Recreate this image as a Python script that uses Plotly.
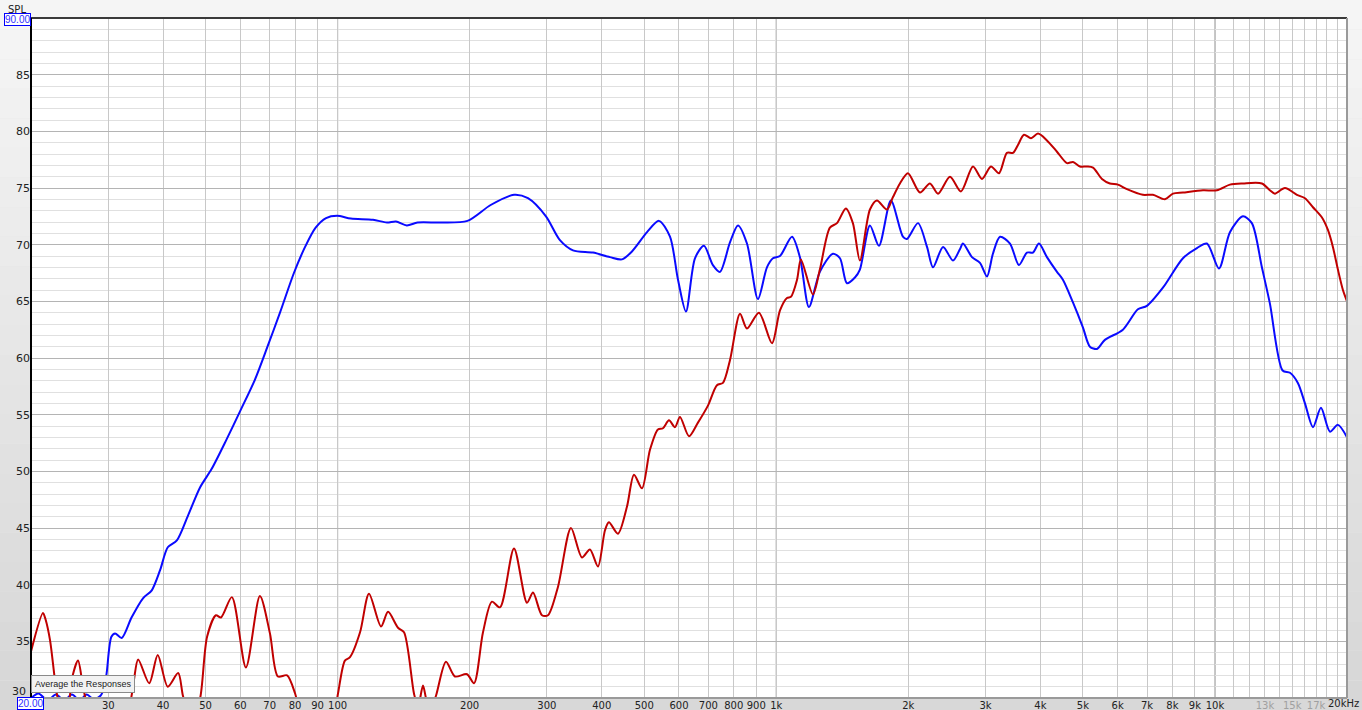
import plotly.graph_objects as go

# ---------------- data ----------------
red_freq = [20, 21.3, 21.6, 22.1, 22.9, 23.8, 24.4, 24.9, 25.6, 26.2, 26.6, 27.5, 29.5, 31.5, 33.6, 34.3,
            35.1, 37.2, 38.9, 41.0, 43.3, 44.4, 45.6, 47.0, 48.6, 50.4, 52.8, 54.2, 57.4, 61.8, 66.5, 70.1,
            73.1, 76.7, 80.0, 82.5, 90, 98, 100.2, 103.9, 106.7, 112.5, 117.9, 125.6, 130.3, 137.3, 141.7,
            149.3, 152.5, 156.5, 159.0, 162.4, 167.6, 176.6, 185.1, 197.2, 204.6, 214.5, 224.8, 234.5, 252.4,
            270.2, 278.9, 292.3, 301.7, 317.9, 340.4, 360.6, 376.0, 392.2, 406.9, 415.4, 435.6, 456.8, 473.8,
            494.2, 515.3, 537.3, 551.6, 569.4, 587.6, 603.2, 632.4, 662.9, 698.6, 732.4, 755.8, 784.2, 826.6,
            857.4, 913.0, 977.8, 1019.6, 1057.8, 1080, 1115, 1138, 1212, 1257, 1325, 1375, 1441, 1495, 1551,
            1635, 1696, 1787, 1845, 1914, 1996, 2126, 2240, 2337, 2489, 2636, 2808, 2944, 3086, 3218, 3356,
            3464, 3556, 3670, 3808, 3950, 4140, 4364, 4598, 4746, 4924, 5108, 5272, 5526, 5762, 6010, 6300,
            6850, 7220, 7690, 8022, 8454, 9390, 10104, 10818, 11580, 12794, 13344, 13700, 14440, 15376, 16040,
            16728, 17538, 18094, 18574, 19068, 19576, 20000]
red_spl = [34.1, 37.5, 36.9, 35.1, 30.4, 27.5, 29.5, 32.0, 33.3, 31.3, 30.0, 27.5, 26.5, 27.5, 29.5, 31.5,
           33.4, 31.3, 33.8, 31.0, 32.2, 30.2, 28.8, 28.5, 30.0, 35.4, 37.3, 37.1, 38.9, 32.7, 39.0, 35.7,
           31.9, 32.0, 30.4, 28.5, 27.0, 28.5, 30.4, 33.3, 33.6, 35.8, 39.2, 36.3, 37.6, 36.2, 35.8,
           30.4, 29.2, 31.1, 30.0, 28.8, 30.2, 33.2, 31.9, 32.1, 31.3, 35.8, 38.5, 38.0, 43.2,
           38.4, 39.3, 37.3, 37.3, 39.8, 45.0, 42.4, 43.1, 41.6, 44.8, 45.5, 44.5, 46.9, 49.7,
           48.5, 51.9, 53.7, 53.8, 54.5, 53.9, 54.8, 53.1, 54.3, 55.8, 57.6, 57.8, 59.8, 63.9,
           62.6, 64.0, 61.3, 64.2, 65.3, 65.4, 66.9, 68.7, 65.6, 67.8, 71.5, 71.9, 73.2, 71.9, 68.6,
           73.1, 73.9, 73.1, 74.2, 75.4, 76.3, 74.6, 75.4, 74.5, 76.0, 74.7, 76.9, 75.8, 76.9, 76.3, 78.1,
           78.1, 78.8, 79.7, 79.4, 79.8, 79.2, 78.2, 77.2, 77.3, 76.9, 76.9, 76.8, 75.8, 75.4, 75.3, 74.9,
           74.4, 74.4, 74.0, 74.5, 74.6, 74.8, 74.8, 75.3, 75.4, 75.4, 74.8, 74.5, 75.0, 74.4, 74.1,
           73.3, 72.4, 71.3, 69.8, 67.8, 66.0, 65.0]

blue_freq = [20, 20.8, 21.8, 22.8, 23.8, 24.8, 25.8, 26.8, 27.8, 28.8, 29.4, 29.75, 30.5, 31.1, 32.2, 33.9,
             36.0, 37.7, 39.4, 41.0, 43.0, 45.6, 48.6, 51.6, 55.8, 60.1, 64.8, 69.2, 73.9, 79.5, 84.3, 89.1,
             94.1, 99.7, 107.2, 120.4, 129.6, 135.8, 143.8, 152.1, 171.8, 197.7, 223.3, 252.4, 271.6, 298.5,
             321.2, 344.0, 382.0, 417.6, 444.8, 468.8, 507.4, 540.2, 572.4, 597.0, 622.4, 652.6, 684.0, 717.0,
             744.0, 784.2, 817.8, 857.4, 908.2, 952.2, 982.6, 1019.6, 1086, 1132, 1187, 1257, 1346, 1397,
             1449, 1511, 1551, 1635, 1714, 1825, 1944, 1985, 2104, 2206, 2277, 2400, 2528, 2622, 2664, 2793,
             2913, 3022, 3118, 3236, 3410, 3574, 3728, 3846, 3970, 4140, 4364, 4502, 4746, 5000, 5188, 5382,
             5612, 6168, 6674, 6996, 7610, 8454, 9098, 9588, 10214, 10818, 11580, 12138, 12794, 13344, 14264,
             14826, 15454, 16040, 16728, 17446, 18288, 19068, 20000]
blue_spl = [30.0, 30.4, 29.8, 30.3, 29.8, 30.3, 29.8, 30.3, 29.9, 30.2, 31.0, 32.2, 35.4, 35.7, 35.3, 37.1,
            38.8, 39.5, 41.3, 43.3, 43.9, 46.1, 48.6, 50.2, 52.8, 55.4, 58.1, 61.0, 64.0, 67.5, 69.8, 71.5,
            72.35, 72.55, 72.3, 72.2, 71.95, 72.05, 71.7, 71.95, 71.95, 72.1, 73.5, 74.4, 74.1, 72.5,
            70.4, 69.5, 69.3, 68.9, 68.7, 69.4, 71.1, 72.1, 70.7, 66.9, 64.1, 68.8, 69.9, 68.2,
            67.6, 70.2, 71.7, 70.1, 65.2, 68.0, 68.8, 69.0, 70.7, 68.9, 64.5, 67.6, 69.2, 68.8,
            66.6, 67.1, 67.8, 71.7, 69.9, 73.9, 70.7, 70.5, 71.9, 69.8, 68.0, 69.8, 68.6, 69.6, 70.1, 68.9,
            68.4, 67.2, 69.2, 70.7, 70.1, 68.2, 69.3, 69.3, 70.1, 68.9, 67.6, 66.9, 64.9, 62.7, 61.0, 60.8,
            61.6, 62.5, 64.3, 64.6, 66.2, 68.8, 69.7, 70.1, 67.9, 71.1, 72.5, 71.9, 68.0, 64.8, 58.9,
            58.7, 57.8, 56.0, 53.9, 55.6, 53.5, 54.1, 53.0]

x_grid_vals = [30, 40, 50, 60, 70, 80, 90, 100, 200, 300, 400, 500, 600, 700, 800, 900,
               1000, 2000, 3000, 4000, 5000, 6000, 7000, 8000, 9000, 10000,
               11000, 12000, 13000, 14000, 15000, 16000, 17000, 18000, 19000]
x_tick_labels = {30: "30", 40: "40", 50: "50", 60: "60", 70: "70", 80: "80", 90: "90", 100: "100",
                 200: "200", 300: "300", 400: "400", 500: "500", 600: "600", 700: "700", 800: "800",
                 900: "900", 1000: "1k", 2000: "2k", 3000: "3k", 4000: "4k", 5000: "5k", 6000: "6k",
                 7000: "7k", 8000: "8k", 9000: "9k", 10000: "10k",
                 13000: "<span style='color:#a0a0a0'>13k</span>",
                 15000: "<span style='color:#a0a0a0'>15k</span>",
                 17000: "<span style='color:#a0a0a0'>17k</span>"}
x_end_label = "20kHz"
x_start_label = "20.00"
y_top_label = "90.00"
y_bottom_label = "30"
decade_vals = [100, 1000, 10000]
y_tick_vals = [35, 40, 45, 50, 55, 60, 65, 70, 75, 80, 85]
y_tick_text = ["35", "40", "45", "50", "55", "60", "65", "70", "75", "80", "85"]

# ---------------- figure ----------------
W, H = 1362, 710
ML, MR, MT, MB = 31, 15, 18, 12
PW, PH = W - ML - MR, H - MT - MB

def px_x(p):
    return (p - ML) / PW

def px_y(p):
    return (H - MB - p) / PH

FONT = "Tahoma, 'DejaVu Sans', sans-serif"
FONT2 = "'Liberation Sans', Arial, sans-serif"

fig = go.Figure()
fig.add_trace(go.Scatter(x=blue_freq, y=blue_spl, mode="lines",
                         line=dict(color="#0a0aff", width=2, shape="spline", smoothing=0.8),
                         hoverinfo="skip", showlegend=False))
fig.add_trace(go.Scatter(x=red_freq, y=red_spl, mode="lines",
                         line=dict(color="#c00000", width=2, shape="spline", smoothing=0.8),
                         hoverinfo="skip", showlegend=False))

tickvals = x_grid_vals
ticktext = [x_tick_labels.get(v, "") for v in tickvals]

fig.update_xaxes(type="log", range=[1.30103, 4.30103], tickvals=tickvals, ticktext=ticktext,
                 showgrid=True, gridcolor="#c8c8c8", gridwidth=1, zeroline=False, showline=False,
                 ticks="", tickfont=dict(family=FONT, size=10, color="#222222"), automargin=False,
                 fixedrange=True)
fig.update_yaxes(range=[30, 90], tickvals=y_tick_vals, ticktext=y_tick_text,
                 showgrid=True, gridcolor="#b4b4b4", gridwidth=1,
                 minor=dict(dtick=1, showgrid=True, gridcolor="#e0e0e0", gridwidth=1),
                 zeroline=False, showline=False, ticks="",
                 tickfont=dict(family=FONT, size=11, color="#222222"), automargin=False,
                 fixedrange=True)

shapes = []
for d in decade_vals:
    shapes.append(dict(type="line", xref="x", yref="paper", x0=d, x1=d, y0=0, y1=1,
                       line=dict(color="#7a7a7a", width=1), layer="between"))
N = 24
y_lo, y_hi = px_y(H), px_y(0)
c_top, c_bot = (246, 246, 246), (214, 214, 214)
for i in range(N):
    t0 = i / N
    t1 = (i + 1) / N
    c = tuple(int(round(c_bot[k] + (c_top[k] - c_bot[k]) * (t0 + t1) / 2)) for k in range(3))
    col = "rgb(%d,%d,%d)" % c
    y0 = y_lo + (y_hi - y_lo) * t0
    y1 = y_lo + (y_hi - y_lo) * t1
    shapes.append(dict(type="rect", xref="paper", yref="paper", x0=px_x(0), x1=0, y0=y0, y1=y1,
                       fillcolor=col, line=dict(width=0), layer="below"))
    shapes.append(dict(type="rect", xref="paper", yref="paper", x0=1, x1=px_x(W), y0=y0, y1=y1,
                       fillcolor=col, line=dict(width=0), layer="below"))
shapes.append(dict(type="rect", xref="paper", yref="paper", x0=0, x1=1, y0=1, y1=px_y(0),
                   fillcolor="rgb(245,245,245)", line=dict(width=0), layer="below"))
shapes.append(dict(type="rect", xref="paper", yref="paper", x0=0, x1=1, y0=px_y(H), y1=0,
                   fillcolor="rgb(216,216,216)", line=dict(width=0), layer="below"))
shapes.append(dict(type="line", xref="paper", yref="paper", x0=0, x1=1, y0=1, y1=1,
                   line=dict(color="#3a3a3a", width=2), layer="above"))
shapes.append(dict(type="line", xref="paper", yref="paper", x0=1, x1=1, y0=0, y1=1,
                   line=dict(color="#9a9a9a", width=2), layer="above"))
shapes.append(dict(type="line", xref="paper", yref="paper", x0=0, x1=1, y0=0, y1=0,
                   line=dict(color="#9a9a9a", width=2), layer="above"))
shapes.append(dict(type="line", xref="paper", yref="paper", x0=0, x1=0, y0=0, y1=1,
                   line=dict(color="#000000", width=2), layer="above"))

annotations = [
    dict(text="SPL", xref="paper", yref="paper", x=px_x(17), y=px_y(9), showarrow=False,
         xanchor="center", yanchor="middle", font=dict(family=FONT, size=10, color="#222222")),
    dict(text=y_top_label, xref="paper", yref="paper", x=px_x(17), y=px_y(19.5), showarrow=False,
         xanchor="center", yanchor="middle", font=dict(family=FONT2, size=10, color="#3030ff"),
         bordercolor="#0000ff", borderwidth=1, borderpad=0, bgcolor="#ffffff"),
    dict(text=y_bottom_label, xref="paper", yref="paper", x=px_x(28), y=px_y(691), showarrow=False,
         xanchor="right", yanchor="middle", font=dict(family=FONT, size=11, color="#222222")),
    dict(text=x_start_label, xref="paper", yref="paper", x=px_x(30), y=px_y(703), showarrow=False,
         xanchor="center", yanchor="middle", font=dict(family=FONT2, size=10, color="#3030ff"),
         bordercolor="#0000ff", borderwidth=1, borderpad=0, bgcolor="#ffffff"),
    dict(text=x_end_label, xref="paper", yref="paper", x=px_x(1361), y=px_y(703), showarrow=False,
         xanchor="right", yanchor="middle", font=dict(family=FONT, size=10, color="#222222")),
    dict(text="Average the Responses", xref="paper", yref="paper", x=px_x(83), y=px_y(684),
         showarrow=False, xanchor="center", yanchor="middle",
         font=dict(family=FONT2, size=9, color="#222222"),
         bordercolor="#8a8a8a", borderwidth=1, borderpad=3, bgcolor="#f2f2f2"),
]

fig.update_layout(width=W, height=H, margin=dict(l=ML, r=MR, t=MT, b=MB, autoexpand=False),
                  paper_bgcolor="#e6e6e6", plot_bgcolor="#ffffff", shapes=shapes,
                  annotations=annotations, showlegend=False, hovermode=False)

fig.write_html("out.html", config={"displayModeBar": False},
               post_script="document.body.style.margin='0';document.body.style.overflow='hidden';")
